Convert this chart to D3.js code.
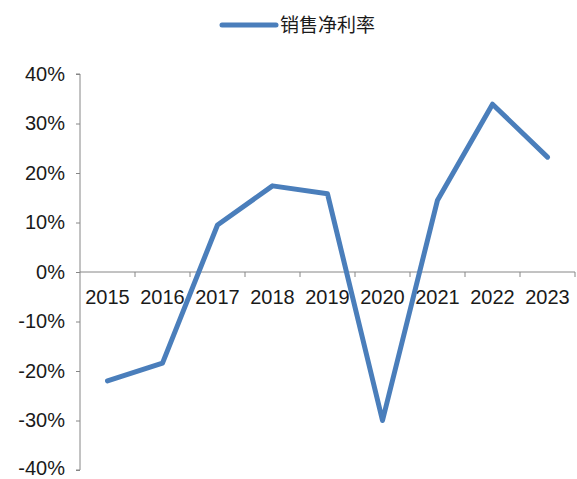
<!DOCTYPE html>
<html><head><meta charset="utf-8">
<script src="https://cdn.jsdelivr.net/npm/d3@7"></script>
<style>body{margin:0;background:#fff;}svg{display:block;}</style>
</head><body>
<svg id="c" width="577" height="479"></svg>
<script>
const years = ["2015","2016","2017","2018","2019","2020","2021","2022","2023"];
const netMargin = [-22.0, -18.4, 9.5, 17.4, 15.8, -30.0, 14.5, 33.9, 23.2];
const yTicks = [40, 30, 20, 10, 0, -10, -20, -30, -40];
const seriesName = "销售净利率";

(function(){
const svg = d3.select("#c");
const mL = 80, mR = 575, mT = 74, mB = 470;
const x = d3.scaleBand().domain(years).range([mL, mR]);
const y = d3.scaleLinear().domain([-40, 40]).range([mB, mT]);
const axisColor = "#868686";

// y axis
const ya = svg.append("g").attr("transform", `translate(${mL},0)`)
  .call(d3.axisLeft(y).tickValues(yTicks).tickSize(4).tickPadding(11).tickFormat(d => d + "%"));
ya.select(".domain").attr("stroke", axisColor).attr("d", `M-4,${y(40)}H0V${y(-40)}H-4`);
ya.selectAll(".tick line").attr("stroke", axisColor);
ya.selectAll("text").attr("fill", "#1a1a1a").style("font-family", "Liberation Sans, Arial, sans-serif").style("font-size", "20px");
ya.selectAll(".tick").filter(d => d === -40).select("text").attr("dy", "0.2em");

// x axis at 0
const xa = svg.append("g").attr("transform", `translate(0,${y(0)})`)
  .call(d3.axisBottom(x).tickSize(0).tickPadding(18));
xa.select(".domain").attr("stroke", axisColor).attr("d", `M${mL},0H${mR}`);
xa.selectAll("text").attr("fill", "#1a1a1a").style("font-family", "Liberation Sans, Arial, sans-serif").style("font-size", "20px");
xa.selectAll(".bt").data(years.map((d,i)=>i+1)).enter().append("line").attr("class","bt")
  .attr("x1", i => mL + x.step()*i).attr("x2", i => mL + x.step()*i)
  .attr("y1", 0).attr("y2", 5).attr("stroke", axisColor);

// line
const line = d3.line().x((d,i) => x(years[i]) + x.bandwidth()/2).y(d => y(d));
svg.append("path").datum(netMargin).attr("d", line)
  .attr("fill", "none").attr("stroke", "#4a7ebb").attr("stroke-width", 5)
  .attr("stroke-linejoin", "round").attr("stroke-linecap", "round");

// legend
svg.append("line").attr("x1", 222).attr("x2", 276).attr("y1", 25).attr("y2", 25)
  .attr("stroke", "#4a7ebb").attr("stroke-width", 5).attr("stroke-linecap", "round");
svg.append("text").attr("x", 280).attr("y", 32).text(seriesName)
  .attr("fill", "#1a1a1a").style("font-family", "Noto Sans CJK SC, sans-serif").style("font-size", "19px");
})();
</script>
</body></html>
